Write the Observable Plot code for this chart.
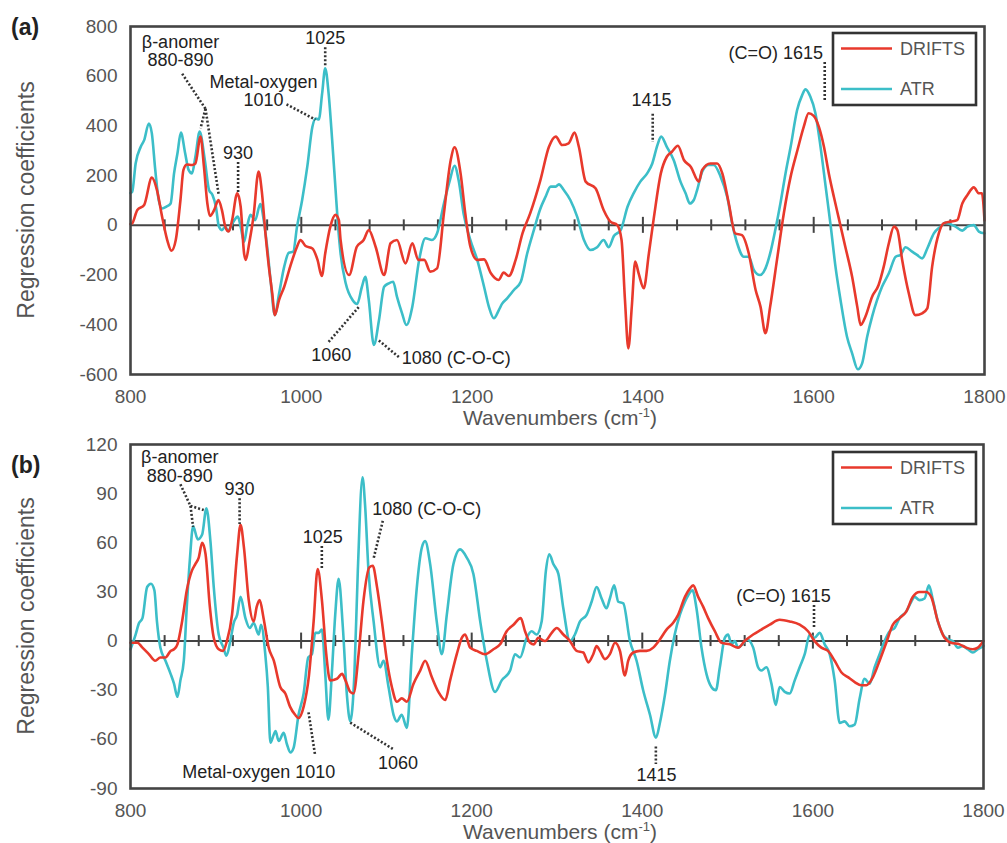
<!DOCTYPE html>
<html><head><meta charset="utf-8">
<script src="https://cdn.jsdelivr.net/npm/d3@7"></script>
<script src="https://cdn.jsdelivr.net/npm/@observablehq/plot@0.6"></script>
<style>
body{margin:0;background:#fff;}
#chart{position:relative;width:1007px;height:843px;background:#fff;}
#chart svg{display:block;}
</style></head><body><div id="chart"></div>
<script>
// ---------- data: [wavenumber, regression coefficient] ----------
const driftsA = [[800,5],[802,8],[808,62],[816,82],[825,192],[831,142],[837,35],[843,-59],[848,-102],[853,-59],[858.5,102],[862,223],[866,245],[872,243],[876,249],[882,357],[886,236],[890,88],[893,38],[898,62],[903,102],[907,62],[911,-5],[915,-25],[919,21],[925,129],[929,75],[933,-113],[935,-139],[939,-72],[944,35],[950,216],[954,129],[958,-32],[962,-166],[966,-274],[969,-361],[974,-300],[980,-247],[987,-166],[995,-86],[999,-59],[1005,-83],[1013,-93],[1019,-139],[1024,-204],[1028,-113],[1034,-5],[1040,42],[1044,21],[1046,-59],[1056,-200],[1065,-86],[1073,-59],[1079,-19],[1087,-86],[1097,-200],[1104.5,-72],[1112,-59],[1122,-153],[1130,-72],[1137,-139],[1144,-139],[1151,-186],[1159,-173],[1167,48],[1175,263],[1179.5,314],[1186.5,209],[1192,48],[1198,-86],[1206,-139],[1214,-137],[1222,-193],[1231,-220],[1237,-190],[1243,-204],[1251,-139],[1259,-32],[1268,48],[1280,182],[1290,316],[1298,357],[1305.5,323],[1313,330],[1320,373],[1325,316],[1333,176],[1344.5,149],[1354,62],[1362,15],[1370,1],[1375,-59],[1379,-300],[1383,-495],[1387,-327],[1391,-146],[1395,-193],[1401,-253],[1407,-113],[1413,35],[1421,209],[1428,276],[1434,296],[1441,320],[1448,263],[1456,236],[1465.5,176],[1469.4,223],[1479,249],[1487,249],[1493,209],[1500.6,88],[1508,-32],[1516,-39],[1524,-113],[1532,-260],[1537.7,-327],[1543.5,-434],[1549,-327],[1557,-139],[1565,48],[1573,196],[1581,303],[1588.4,397],[1594,451],[1600,440],[1606,397],[1612,316],[1617.7,209],[1623.6,115],[1629.4,28],[1637,-86],[1645,-207],[1651,-327],[1655,-401],[1660.6,-367],[1668.4,-287],[1676,-240],[1682,-166],[1688,-72],[1694,-5],[1698,-19],[1703.6,-139],[1711.4,-274],[1719,-361],[1727,-354],[1733,-334],[1738.7,-166],[1746.5,-32],[1752,8],[1760,15],[1768,21],[1774,88],[1780,122],[1787.5,153],[1793.4,129],[1797,129],[1800,20]];

const atrA = [[800,130],[802,135],[806,249],[812,316],[816,343],[821.5,410],[825,370],[829,223],[833,102],[837,68],[842,75],[847,88],[851,209],[855,290],[859,373],[864,290],[868,223],[872,209],[876,276],[881,377],[887,263],[892,142],[896,122],[900,75],[903.5,-5],[907,-19],[911,-5],[914,-23],[919,5],[925.7,35],[929,-5],[933,-66],[936.6,-5],[940.5,42],[946,21],[952,86],[956,21],[960,-86],[964,-220],[969,-361],[974,-274],[980,-166],[985.4,-110],[990.5,-106],[995,-5],[1001,102],[1007,236],[1013,397],[1017,430],[1020.5,426],[1024.4,531],[1028,632],[1032,530],[1036,350],[1040,150],[1043,0],[1046,-113],[1052,-233],[1060,-300],[1065.4,-316],[1071,-247],[1075,-207],[1079,-300],[1085,-481],[1091,-381],[1097,-247],[1102.5,-233],[1107.6,-227],[1112,-287],[1118,-354],[1123,-401],[1130,-327],[1138,-139],[1145.4,-52],[1153,-59],[1159,-32],[1167,88],[1174,182],[1179.4,240],[1184.5,176],[1190,48],[1198,-59],[1206,-139],[1214,-247],[1219.6,-327],[1225.5,-374],[1231.3,-341],[1235,-316],[1241,-294],[1249,-260],[1257,-227],[1264.5,-113],[1272.3,-19],[1280,68],[1286,115],[1292,156],[1298,156],[1301.6,165],[1307.4,142],[1315,102],[1323,35],[1331,-59],[1338.6,-99],[1346.4,-88],[1354,-59],[1360,-88],[1366,-43],[1374,-19],[1382,75],[1389.4,131],[1397,176],[1405,209],[1411,249],[1417,323],[1421.4,357],[1428,316],[1436,263],[1444,176],[1450,129],[1455,88],[1459.6,102],[1463.5,142],[1469.4,216],[1477,243],[1483,243],[1491,196],[1498.7,115],[1504.5,8],[1510.4,-72],[1518,-126],[1524,-126],[1530,-180],[1537,-200],[1543.5,-173],[1549,-113],[1555,-19],[1561,88],[1567,209],[1573,316],[1580.6,464],[1586.5,524],[1590.4,547],[1596,518],[1602,451],[1608,316],[1614,156],[1620,-5],[1625.5,-166],[1631.4,-300],[1639,-448],[1645,-515],[1651.7,-579],[1656.7,-555],[1662.6,-448],[1668.4,-367],[1674.3,-300],[1680,-247],[1688,-193],[1696,-126],[1701.6,-119],[1707.5,-88],[1715.3,-106],[1721,-119],[1727,-133],[1733,-93],[1740.7,-32],[1748.5,-5],[1754.3,11],[1760,5],[1766,-5],[1774,-21],[1780,-5],[1787.5,1],[1793.4,-25],[1800,-32]];

const driftsB = [[800,-1],[808,-1],[814,-4],[821.5,-8],[829,-12],[835,-10],[841,-10],[847,-6],[851,-5],[855,-2],[860.5,12],[866,31],[872,43],[876,47],[880,51],[884,60],[888,53],[893,21],[897.6,2],[903.4,-5],[908.5,-6],[913,0],[919,16],[925,53],[929,71],[933,57],[938.6,25],[944.4,12],[948,21],[951.4,25],[956,14],[962,-4],[968,-12],[975.6,-28],[981.5,-32],[987,-40],[993,-45],[997,-47],[1003,-40],[1009,-22],[1014.7,12],[1019.4,44],[1024.4,25],[1029.5,-8],[1034,-24],[1042,-23],[1048,-20],[1052,-24],[1057.6,-31],[1061.5,-32],[1067.4,-8],[1073.2,25],[1080,45],[1084,46],[1089,33],[1094.7,12],[1100.6,-12],[1106.4,-28],[1112.3,-37],[1118,-35],[1124,-37],[1131.8,-26],[1139.6,-18],[1145.4,-12],[1153.2,-22],[1161,-31],[1169,-36],[1174.7,-24],[1182.5,-8],[1188.4,2],[1192.3,4],[1198.1,-4],[1206,-6],[1215.7,-8],[1225.5,-5],[1233.3,-2],[1241,6],[1249,10],[1257.5,14],[1262.5,6],[1268.4,-1],[1273,-2],[1278,2],[1286,0],[1293.8,5],[1299.6,8],[1307.4,4],[1315.2,0],[1323,-6],[1330.8,-7],[1336.7,-13],[1342.5,-8],[1346.4,-3],[1350.4,-6],[1356.2,-11],[1362,-8],[1368,-1],[1373.8,-6],[1379.6,-21],[1383.5,-12],[1389.4,-7],[1397.2,-6],[1405,-6],[1412.8,-4],[1420.6,1],[1428.4,7],[1436,11],[1442,16],[1450,27],[1455.7,32],[1459.6,34],[1465.5,27],[1471.3,21],[1477.2,14],[1485,6],[1492.8,-1],[1502.6,-2],[1512.3,-4],[1520,0],[1530,4],[1539.6,7],[1549.4,10],[1561,13],[1572.8,12],[1584.5,10],[1594.3,6],[1602,0],[1609.9,-4],[1617.7,-6],[1625.5,-12],[1633.3,-19],[1641,-22],[1649,-25],[1656.7,-27],[1662.6,-27],[1670.4,-22],[1678.2,-12],[1686,-1],[1693.8,10],[1701.6,14],[1709.4,18],[1717.2,27],[1725,30],[1732.8,30],[1738.7,27],[1746.5,12],[1754.3,2],[1762,-1],[1772,-2],[1779.7,-4],[1787.5,-5],[1793.4,-4],[1800,0]];

const atrB = [[800,-5],[806,4],[810,11],[814,14],[819.5,33],[824,35],[828,31],[831,12],[835,-4],[841,-12],[847,-20],[851,-26],[855,-34],[858.5,-24],[862.5,-12],[866,21],[869.5,49],[873.4,70],[879,62],[884,65],[889,81],[893.7,61],[897.6,33],[903.4,4],[909,-4],[912.4,-9],[917,0],[921,11],[925,16],[929,27],[934.7,14],[939.7,8],[944.4,11],[950.3,4],[953,10],[958,-8],[961,-28],[964,-62],[968,-57],[970,-55],[973.7,-61],[979.6,-56],[983.4,-63],[987.4,-68],[991.3,-65],[997,-45],[1003,-32],[1008.4,-10],[1012.7,-8],[1016.6,5],[1020.5,5],[1024.4,7],[1028.3,-20],[1032,-48],[1036,-20],[1040,16],[1044,38],[1049,8],[1053.7,-33],[1057.6,-49],[1062.5,-20],[1066.5,43],[1072,100],[1075,83],[1079,43],[1085,12],[1092.7,-16],[1096.6,-12],[1102.5,-28],[1108.4,-45],[1112.3,-49],[1118,-45],[1124,-53],[1129.8,-8],[1135.7,33],[1141.5,57],[1145.4,61],[1151.3,47],[1159,12],[1165,-8],[1170.8,16],[1178.6,47],[1186.4,56],[1194.2,51],[1202,41],[1210,12],[1217.7,-12],[1227.4,-31],[1235.2,-24],[1245,-18],[1250.8,-8],[1256.7,-10],[1264.5,2],[1270.3,6],[1276,4],[1282,12],[1287,43],[1291,53],[1295.7,47],[1301.6,41],[1307.4,20],[1315.2,0],[1321,4],[1327,12],[1334.7,16],[1340.6,24],[1346.5,33],[1352.3,26],[1358,20],[1362,26],[1367,34],[1371.8,24],[1377.7,23],[1385.5,0],[1393.3,-12],[1401,-30],[1409,-45],[1416,-59],[1420.6,-50],[1426.5,-33],[1432.3,-12],[1438,4],[1444,16],[1450,24],[1453.8,28],[1458.9,31],[1463.5,20],[1469.4,-4],[1475.2,-20],[1481,-28],[1486.2,-30],[1490.9,-16],[1496.7,2],[1500.6,4],[1504.5,-2],[1508.4,0],[1512.3,-4],[1517.4,-2],[1522.9,1],[1530,-4],[1535.7,-16],[1539.6,-18],[1545.5,-16],[1551.4,-26],[1556.4,-39],[1561,-28],[1567,-31],[1572.8,-32],[1578.7,-24],[1584.5,-16],[1590.4,-8],[1596.3,4],[1602,2],[1608,5],[1613.8,-2],[1619.7,-8],[1625.5,-24],[1631.4,-50],[1637.2,-49],[1643,-52],[1649,-51],[1654.8,-35],[1660.6,-23],[1666.5,-26],[1672.4,-16],[1678.2,-8],[1684,0],[1690,6],[1695.8,8],[1701.6,14],[1709.4,18],[1715.3,24],[1719.2,27],[1725,25],[1730.9,26],[1736,34],[1740.7,25],[1746.5,12],[1752.4,4],[1758.2,1],[1764,0],[1770,-4],[1775.8,-3],[1781.6,-5],[1787.5,-7],[1793.4,-5],[1800,-3]];

// ---------- ticks / labels ----------
const xTicks = [800, 1000, 1200, 1400, 1600, 1800];
const yTicksA = [-600, -400, -200, 0, 200, 400, 600, 800];
const yTicksB = [-90, -60, -30, 0, 30, 60, 90, 120];
const axisTicks = [840,880,920,960,1000,1040,1080,1120,1160,1200,1240,1280,1320,1360,1400,1440,1480,1520,1560,1600,1640,1680,1720,1760];
const seriesNames = ["DRIFTS", "ATR"];
const seriesColors = ["#e8392c", "#3cbec8"];

// ---------- annotations ----------
const annA = [
  {text: "β-anomer\n880-890", x: 858.5, y: 700},
  {text: "930", x: 926, y: 291},
  {text: "Metal-oxygen\n1010", x: 955.7, y: 540},
  {text: "1025", x: 1028, y: 755},
  {text: "1060", x: 1035, y: -523},
  {text: "1080 (C-O-C)", x: 1181.5, y: -536},
  {text: "1415", x: 1410, y: 503},
  {text: "(C=O) 1615", x: 1555.6, y: 691}
];
const leadA = [
  {x1: 860.5, y1: 610, x2: 887.8, y2: 469},
  {x1: 887.8, y1: 469, x2: 882, y2: 390},
  {x1: 887.8, y1: 469, x2: 903.4, y2: 121},
  {x1: 926, y1: 255, x2: 926, y2: 134},
  {x1: 982.7, y1: 487, x2: 1016.6, y2: 425},
  {x1: 1028, y1: 717, x2: 1028, y2: 637},
  {x1: 1032, y1: -469, x2: 1067.2, y2: -329},
  {x1: 1090.8, y1: -463, x2: 1114.2, y2: -530},
  {x1: 1411.5, y1: 449, x2: 1411.5, y2: 335},
  {x1: 1612.9, y1: 657, x2: 1612.9, y2: 503}
];
const annB = [
  {text: "β-anomer\n880-890", x: 857.8, y: 106.4},
  {text: "930", x: 927.9, y: 92.7},
  {text: "1025", x: 1025.5, y: 63.2},
  {text: "Metal-oxygen 1010", x: 950.3, y: -80.1},
  {text: "1080 (C-O-C)", x: 1147.3, y: 80.5},
  {text: "1060", x: 1113.5, y: -74.2},
  {text: "1415", x: 1416.6, y: -82.1},
  {text: "(C=O) 1615", x: 1565.5, y: 27.6}
];
const leadB = [
  {x1: 858.5, y1: 95.7, x2: 870.3, y2: 82.5},
  {x1: 870.3, y1: 82.5, x2: 873.4, y2: 69.7},
  {x1: 870.3, y1: 82.5, x2: 885.8, y2: 80},
  {x1: 927.9, y1: 87.2, x2: 927.9, y2: 71.4},
  {x1: 1024.3, y1: 58.1, x2: 1024.3, y2: 43.9},
  {x1: 1008.7, y1: -43.5, x2: 1016.5, y2: -69.9},
  {x1: 1095.8, y1: 73.4, x2: 1084.8, y2: 50},
  {x1: 1057.6, y1: -49.8, x2: 1108.3, y2: -66.1},
  {x1: 1415.9, y1: -64.4, x2: 1415.9, y2: -75},
  {x1: 1601.3, y1: 22, x2: 1601.3, y2: 7.3}
];

const FONT = "'Liberation Sans', Arial, Helvetica, sans-serif";
const fmt = d => String(d);

function panel(cfg) {
  const {drifts, atr, yDomain, yTicks, height, mt, mb, mr, ann, lead, tag, tagY, legendY} = cfg;
  const plotH = height - mt - mb;
  const unitPerPx = (yDomain[1] - yDomain[0]) / plotH;
  const tickRows = axisTicks.map(t => ({t, h: (t % 200 === 0 ? 8 : 5.5) * unitPerPx}));
  const svg = Plot.plot({
    width: 1007, height,
    marginLeft: 130, marginRight: mr, marginTop: mt, marginBottom: mb,
    style: {fontFamily: FONT, color: "#555", background: "#fff"},
    x: {domain: [800, 1800]},
    y: {domain: yDomain},
    marks: [
      Plot.axisY({ticks: yTicks, tickFormat: fmt, tickSize: 0, tickPadding: 13, fontSize: 19, label: null, fill: "#555"}),
      Plot.axisX({ticks: xTicks, tickFormat: fmt, tickSize: 0, tickPadding: 15, fontSize: 19, label: null, fill: "#555"}),
      Plot.ruleY([0], {stroke: "#444", strokeWidth: 2}),
      Plot.ruleX(tickRows, {x: "t", y1: d => -d.h, y2: d => d.h, stroke: "#444", strokeWidth: 2}),
      Plot.line(atr, {x: d => d[0], y: d => d[1], stroke: seriesColors[1], strokeWidth: 2.6, curve: "monotone-x"}),
      Plot.line(drifts, {x: d => d[0], y: d => d[1], stroke: seriesColors[0], strokeWidth: 2.6, curve: "monotone-x"}),
      Plot.link(lead, {x1: "x1", y1: "y1", x2: "x2", y2: "y2", stroke: "#333", strokeWidth: 2.6, strokeDasharray: "2,2"}),
      Plot.text(ann, {x: "x", y: "y", text: "text", fontSize: 18, fill: "#222", lineHeight: 1.02}),
      Plot.frame({stroke: "#444", strokeWidth: 2.6})
    ]
  });
  const s = d3.select(svg);
  const cy = mt + plotH / 2;
  // y axis title
  s.append("text")
    .attr("transform", `translate(34,${cy}) rotate(-90)`)
    .attr("text-anchor", "middle")
    .attr("font-size", 23).attr("fill", "#555").attr("font-family", FONT)
    .text("Regression coefficients");
  // x axis title
  const xt = s.append("text")
    .attr("x", 560).attr("y", height - mb + 51)
    .attr("text-anchor", "middle")
    .attr("font-size", 21).attr("fill", "#555").attr("font-family", FONT);
  xt.append("tspan").text("Wavenumbers (cm");
  xt.append("tspan").attr("font-size", 13).attr("dy", -8).text("-1");
  xt.append("tspan").attr("dy", 8).text(")");
  // panel tag
  s.append("text").attr("x", 11).attr("y", tagY).attr("text-anchor", "start")
    .attr("font-size", 23).attr("font-weight", "bold").attr("fill", "#222").attr("font-family", FONT)
    .text(tag);
  // legend
  const lg = s.append("g").attr("transform", `translate(833,${legendY})`);
  lg.append("rect").attr("x", 0).attr("y", 0).attr("width", 143).attr("height", 72)
    .attr("fill", "#fff").attr("stroke", "#333").attr("stroke-width", 2.6);
  seriesNames.forEach((name, i) => {
    const yy = 15.5 + i * 40.5;
    lg.append("line").attr("x1", 8).attr("x2", 59).attr("y1", yy).attr("y2", yy)
      .attr("stroke", seriesColors[i]).attr("stroke-width", 2.6);
    lg.append("text").attr("x", 67).attr("y", yy).attr("dy", "0.35em").attr("text-anchor", "start")
      .attr("font-size", 18).attr("fill", "#555").attr("font-family", FONT).text(name);
  });
  return svg;
}

const chart = document.getElementById("chart");
chart.appendChild(panel({
  drifts: driftsA, atr: atrA, yDomain: [-600, 800], yTicks: yTicksA,
  height: 432, mt: 26, mb: 58, mr: 23, ann: annA, lead: leadA,
  tag: "(a)", tagY: 35, legendY: 33
}));
chart.appendChild(panel({
  drifts: driftsB, atr: atrB, yDomain: [-90, 120], yTicks: yTicksB,
  height: 411, mt: 12, mb: 55, mr: 24, ann: annB, lead: leadB,
  tag: "(b)", tagY: 41, legendY: 20
}));
</script>
</body></html>
